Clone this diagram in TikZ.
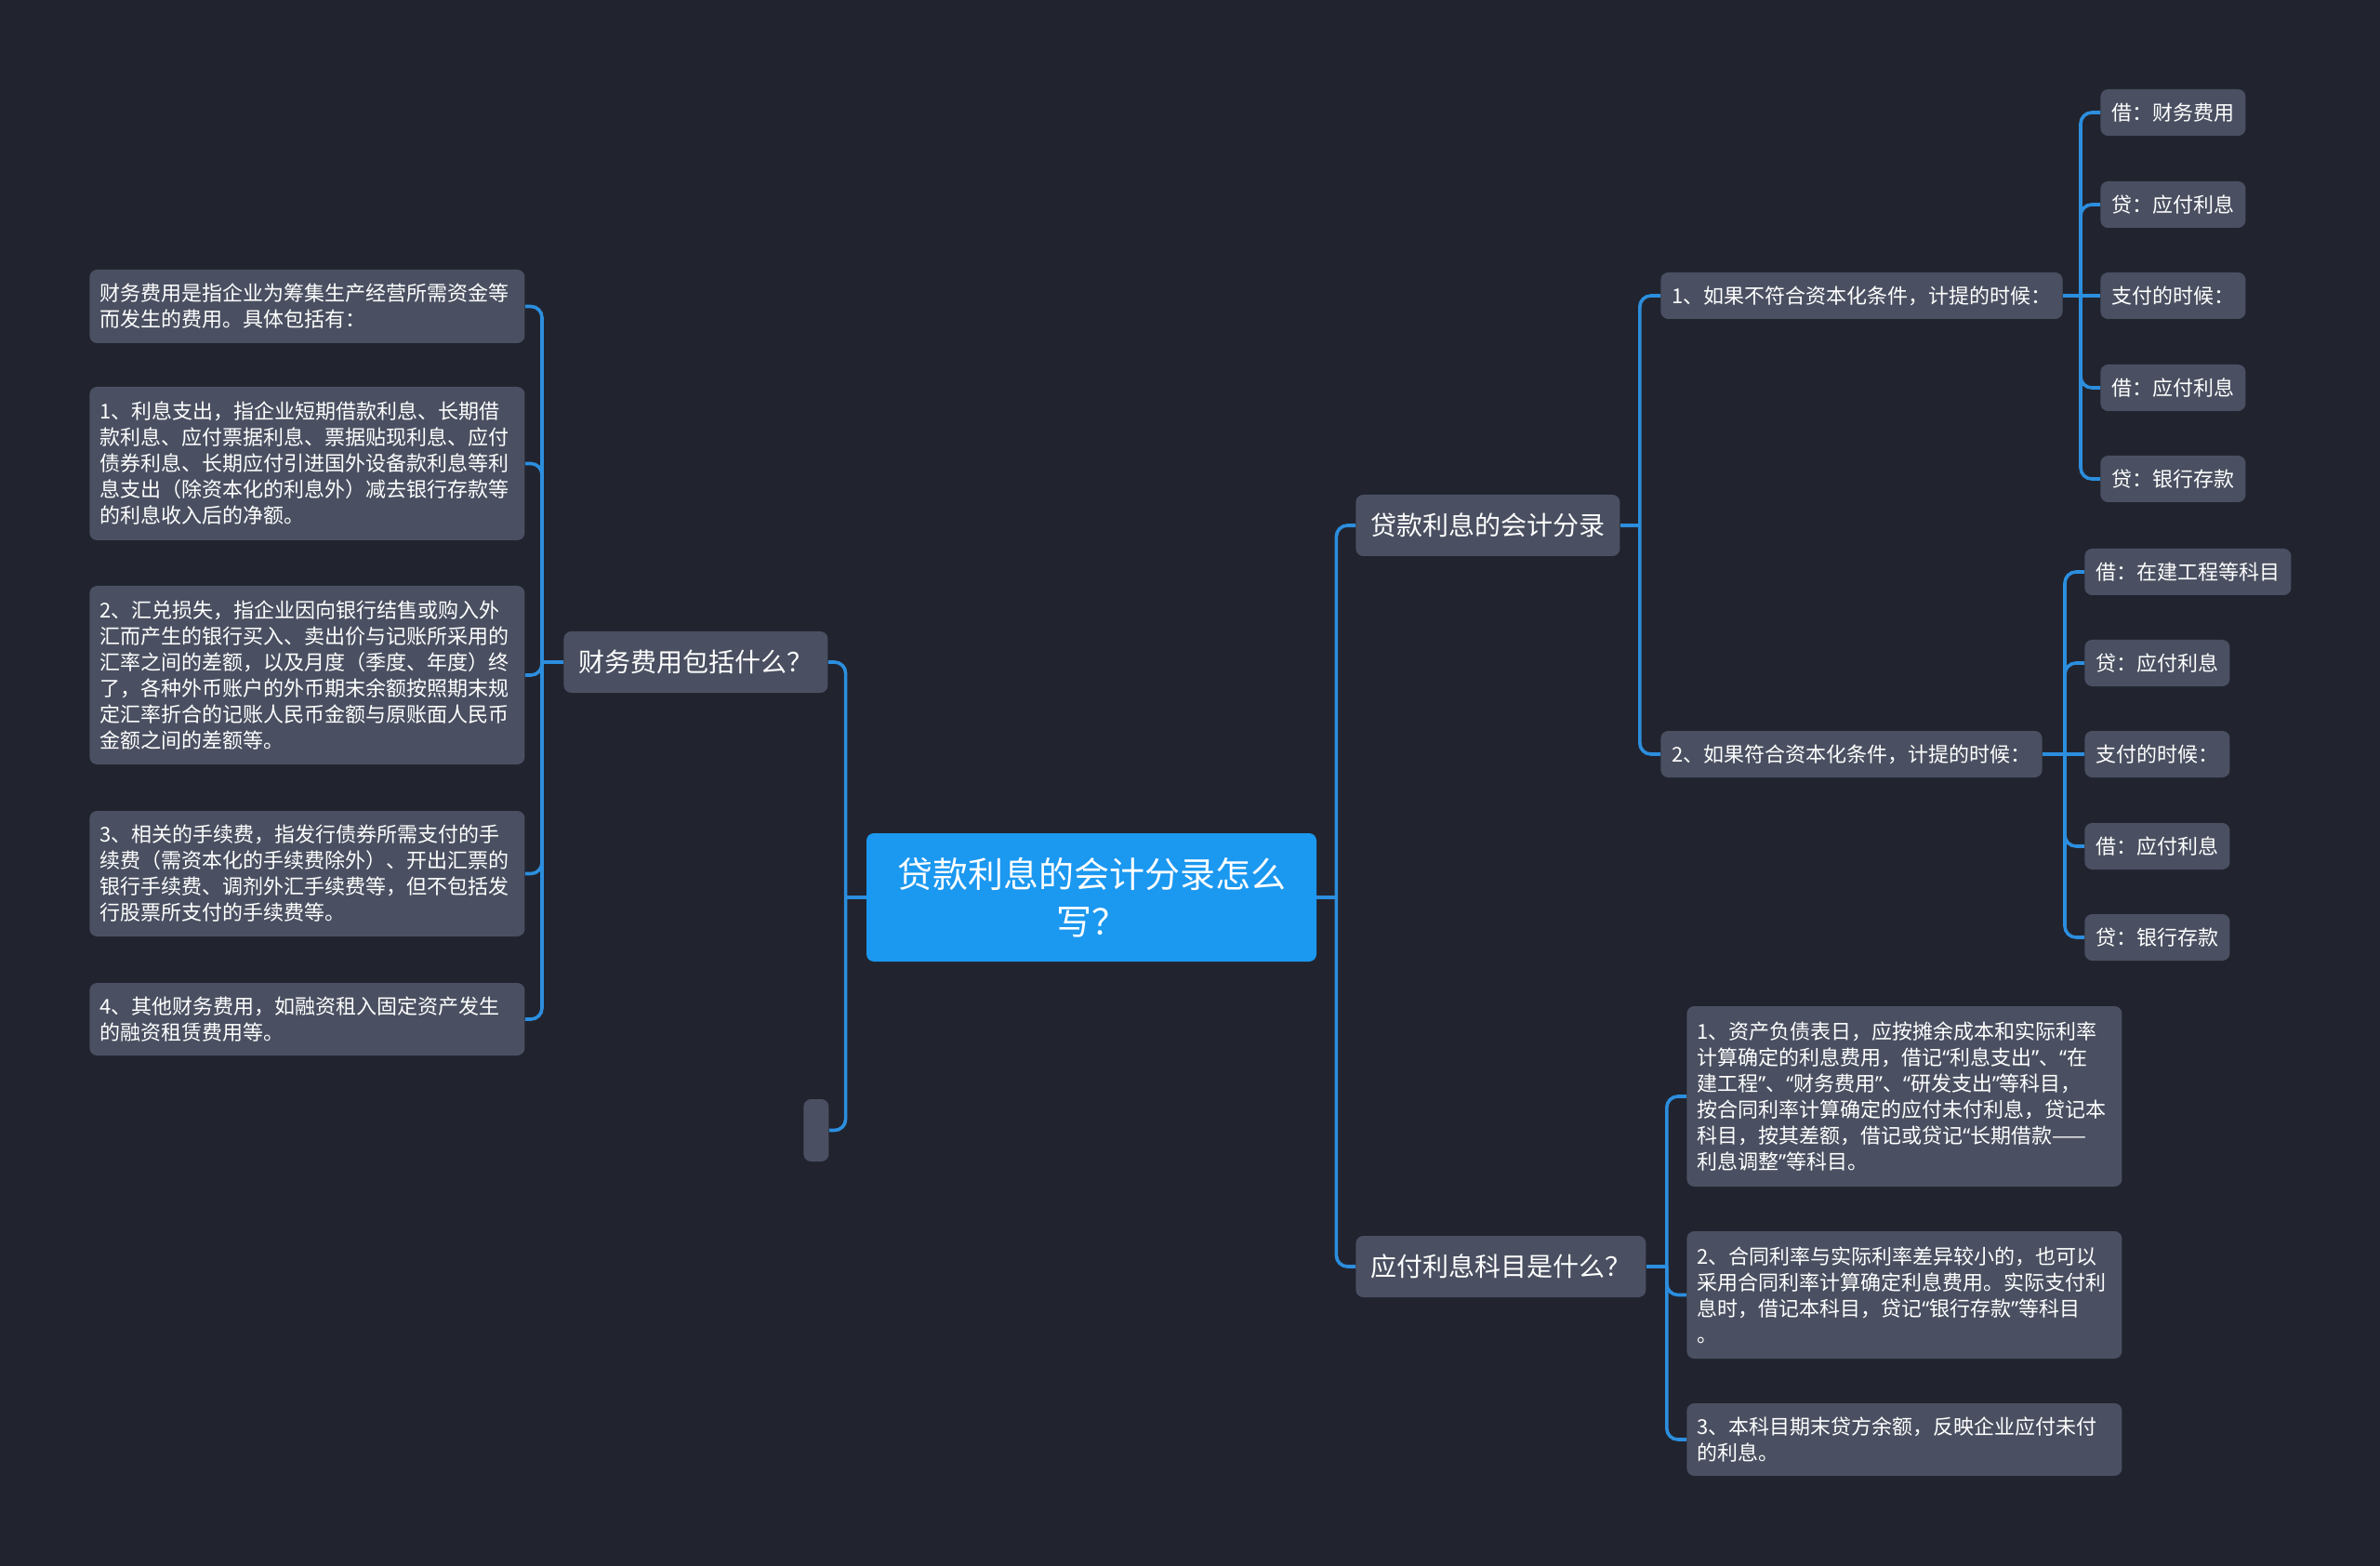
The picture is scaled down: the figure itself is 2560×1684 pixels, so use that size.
\documentclass[tikz,border=0pt]{standalone}
\usepackage{fontspec}
\setmainfont{Noto Sans CJK SC}
\newfontfamily\latf{Noto Sans}
\newcommand{\oq}{{\latf “}}
\newcommand{\cq}{{\latf ”}}
\definecolor{bgc}{HTML}{21242F}
\definecolor{boxc}{HTML}{4A5061}
\definecolor{rootc}{HTML}{1B98F0}
\definecolor{linec}{HTML}{2C8EDE}
\begin{document}
\begin{tikzpicture}[x=0.5pt,y=-0.5pt,
  conn/.style={draw=linec, line width=1.8pt, rounded corners=6pt},
  box/.style={fill=boxc, rounded corners=4pt, text=white, inner ysep=0pt},
  leaf/.style={box, font=\fontsize{11}{14}\selectfont, inner xsep=5.5pt, text width=223pt, align=left, anchor=west},
  small/.style={box, font=\fontsize{11}{14}\selectfont, inner xsep=6pt, minimum height=25pt, anchor=west},
  mid/.style={box, font=\fontsize{14}{17}\selectfont, inner xsep=8pt, minimum height=33pt, anchor=west},
  rootbox/.style={fill=rootc, rounded corners=4pt, text=white, font=\fontsize{19}{25.5}\selectfont, align=center, minimum width=242pt, minimum height=69pt, inner sep=0pt}]
\useasboundingbox (0,0) rectangle (2560,1684);
\fill[bgc] (0,0) rectangle (2560,1684);

% root
\node[rootbox] (root) at (1174,965) {贷款利息的会计分录怎么\\写？};

% left side
\node[mid] (M) at (606,712) {财务费用包括什么？};
\node[box, minimum width=13.5pt, minimum height=33.5pt, inner sep=0pt, anchor=west] (E) at (864,1215.5) {};

\node[leaf, minimum height=39.5pt] (L0) at (96,329.5) {财务费用是指企业为筹集生产经营所需资金等\\而发生的费用。具体包括有：};
\node[leaf, minimum height=82.5pt] (L1) at (96,498.5) {1、利息支出，指企业短期借款利息、长期借\\款利息、应付票据利息、票据贴现利息、应付\\债券利息、长期应付引进国外设备款利息等利\\息支出（除资本化的利息外）减去银行存款等\\的利息收入后的净额。};
\node[leaf, minimum height=96pt] (L2) at (96,726) {2、汇兑损失，指企业因向银行结售或购入外\\汇而产生的银行买入、卖出价与记账所采用的\\汇率之间的差额，以及月度（季度、年度）终\\了，各种外币账户的外币期末余额按照期末规\\定汇率折合的记账人民币金额与原账面人民币\\金额之间的差额等。};
\node[leaf, minimum height=67.5pt] (L3) at (96,939.5) {3、相关的手续费，指发行债券所需支付的手\\续费（需资本化的手续费除外）、开出汇票的\\银行手续费、调剂外汇手续费等，但不包括发\\行股票所支付的手续费等。};
\node[leaf, minimum height=39pt] (L4) at (96,1096) {4、其他财务费用，如融资租入固定资产发生\\的融资租赁费用等。};

% right side
\node[mid] (R1) at (1458,565) {贷款利息的会计分录};
\node[mid] (R2) at (1458,1362) {应付利息科目是什么？};

\node[small] (A) at (1786,318) {1、如果不符合资本化条件，计提的时候：};
\node[small] (B) at (1786,811) {2、如果符合资本化条件，计提的时候：};

\node[small] (A1) at (2259,121) {借：财务费用};
\node[small] (A2) at (2259,220) {贷：应付利息};
\node[small] (A3) at (2259,318) {支付的时候：};
\node[small] (A4) at (2259,417) {借：应付利息};
\node[small] (A5) at (2259,515) {贷：银行存款};

\node[small] (B1) at (2242,615) {借：在建工程等科目};
\node[small] (B2) at (2242,713) {贷：应付利息};
\node[small] (B3) at (2242,811) {支付的时候：};
\node[small] (B4) at (2242,910) {借：应付利息};
\node[small] (B5) at (2242,1008) {贷：银行存款};

\node[leaf, minimum height=97pt] (C1) at (1814,1179) {1、资产负债表日，应按摊余成本和实际利率\\计算确定的利息费用，借记\oq 利息支出\cq 、\oq 在\\建工程\cq 、\oq 财务费用\cq 、\oq 研发支出\cq 等科目，\\按合同利率计算确定的应付未付利息，贷记本\\科目，按其差额，借记或贷记\oq 长期借款——\\利息调整\cq 等科目。};
\node[leaf, minimum height=68.5pt] (C2) at (1814,1392.5) {2、合同利率与实际利率差异较小的，也可以\\采用合同利率计算确定利息费用。实际支付利\\息时，借记本科目，贷记\oq 银行存款\cq 等科目\\。};
\node[leaf, minimum height=39pt] (C3) at (1814,1548) {3、本科目期末贷方余额，反映企业应付未付\\的利息。};

% connectors
\coordinate (rj) at ([xshift=10.5pt]root.east);
\draw[conn] (root.east) -- (rj);
\draw[conn] (rj) |- (R1.west);
\draw[conn] (rj) |- (R2.west);

\coordinate (lj) at ([xshift=-11pt]root.west);
\draw[conn] (root.west) -- (lj);
\draw[conn] (lj) |- (M.east);
\draw[conn] (lj) |- (E.east);

\coordinate (mj) at ([xshift=-11.5pt]M.west);
\draw[conn] (M.west) -- (mj);
\foreach \n in {L0,L1,L2,L3,L4} \draw[conn] (mj) |- (\n.east);

\coordinate (r1j) at ([xshift=10.5pt]R1.east);
\draw[conn] (R1.east) -- (r1j);
\draw[conn] (r1j) |- (A.west);
\draw[conn] (r1j) |- (B.west);

\coordinate (aj) at ([xshift=-10.5pt]A3.west);
\draw[conn] (A.east) -- (A3.west);
\foreach \n in {A1,A2,A4,A5} \draw[conn] (aj) |- (\n.west);

\coordinate (bj) at ([xshift=-10.5pt]B3.west);
\draw[conn] (B.east) -- (B3.west);
\foreach \n in {B1,B2,B4,B5} \draw[conn] (bj) |- (\n.west);

\coordinate (r2j) at ([xshift=11pt]R2.east);
\draw[conn] (R2.east) -- (r2j);
\foreach \n in {C1,C2,C3} \draw[conn] (r2j) |- (\n.west);
\end{tikzpicture}
\end{document}
